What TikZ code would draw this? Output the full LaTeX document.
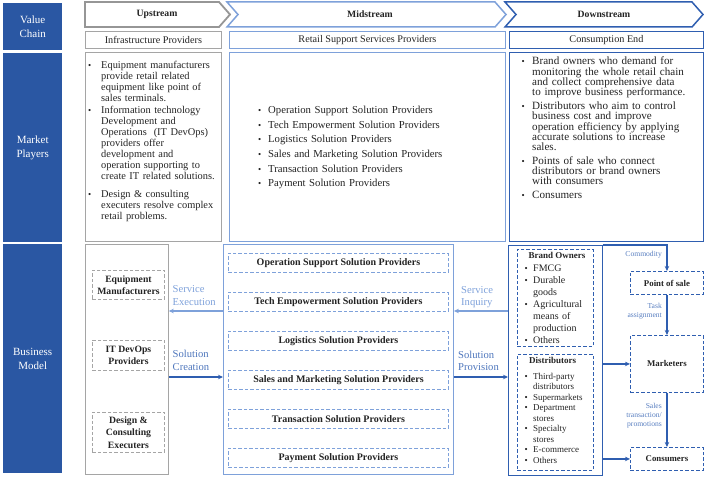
\documentclass[tikz,border=0pt]{standalone}
\usepackage{fontspec}
\setmainfont{Liberation Serif}
\usetikzlibrary{arrows.meta,calc}
\definecolor{barblue}{RGB}{42,87,163}
\definecolor{dblue}{RGB}{47,94,176}
\definecolor{lblue}{RGB}{126,161,218}
\definecolor{gborder}{RGB}{165,165,165}
\definecolor{chevgray}{RGB}{150,150,150}
\definecolor{txt}{RGB}{35,35,35}
\newenvironment{blist}[2]{\begin{list}{}{%
  \setlength{\leftmargin}{#1}\setlength{\labelwidth}{#1}\setlength{\labelsep}{0pt}%
  \setlength{\itemsep}{#2}\setlength{\parsep}{0pt}\setlength{\topsep}{0pt}%
  \setlength{\partopsep}{0pt}\setlength{\itemindent}{0pt}%
  \def\makelabel##1{{\small\textbullet}\hfil}}\raggedright}{\end{list}}
\begin{document}
\begin{tikzpicture}[x=1pt,y=-1pt,
  bar/.style={fill=barblue, draw=none, text=white, font=\fontsize{11}{13.5}\selectfont, align=center, inner sep=0pt, anchor=north west},
  gbox/.style={draw=gborder, line width=0.8pt, inner sep=0pt, anchor=north west, text=txt},
  lbox/.style={draw=lblue, line width=0.9pt, inner sep=0pt, anchor=north west, text=txt},
  dbox/.style={draw=dblue, line width=0.9pt, inner sep=0pt, anchor=north west, text=txt},
  rowtxt/.style={font=\fontsize{10.2}{12}\selectfont},
  gdash/.style={draw=gborder, line width=0.9pt, dash pattern=on 3.5pt off 2pt, inner sep=0pt, anchor=north west, align=center, text=txt, font=\bfseries\fontsize{9.7}{12.5}\selectfont},
  bdash/.style={draw=lblue, line width=0.9pt, dash pattern=on 3.5pt off 2pt, inner sep=0pt, anchor=north west, align=center, text=txt, font=\bfseries\fontsize{10}{12}\selectfont},
  ddash/.style={draw=dblue, line width=0.9pt, dash pattern=on 3.5pt off 2pt, inner sep=0pt, anchor=north west, align=center, text=txt, font=\bfseries\fontsize{8.8}{11}\selectfont},
  listtxt/.style={inner sep=0pt, anchor=north west, text=txt},
  arr/.style={-{Stealth[length=5pt,width=4.5pt]}, line width=1.4pt},
  flowlbl/.style={inner sep=0pt, align=left, anchor=west, font=\fontsize{10.6}{12.3}\selectfont},
  smalllbl/.style={inner sep=0pt, align=right, anchor=east, text=dblue!80, font=\fontsize{7.6}{9}\selectfont}
]
\useasboundingbox (0,0) rectangle (704,478);

% left bar
\node[bar, minimum width=59pt, minimum height=47pt] (vc) at (3,3) {Value\\Chain};
\node[bar, minimum width=59pt, minimum height=189pt] (mp) at (3,53) {Market\\Players};
\node[bar, minimum width=59pt, minimum height=229pt] (bm) at (3,244) {Business\\Model};

% chevrons
\draw[chevgray, line width=1.8pt, fill=white] (85,2) -- (219,2) -- (230,14.5) -- (219,27) -- (85,27) -- cycle;
\draw[lblue, line width=1.5pt, fill=white] (227,2) -- (495,2) -- (506,14.5) -- (495,27) -- (227,27) -- (238,14.5) -- cycle;
\draw[dblue, line width=1.5pt, fill=white] (505,2) -- (692,2) -- (703,14.5) -- (692,27) -- (505,27) -- (516,14.5) -- cycle;
\node[font=\bfseries\fontsize{9.7}{11}\selectfont, text=txt] (up) at (157,14.5) {Upstream};
\node[font=\bfseries\fontsize{9.7}{11}\selectfont, text=txt] (mid) at (370,14.5) {Midstream};
\node[font=\bfseries\fontsize{9.7}{11}\selectfont, text=txt] (down) at (604,14.5) {Downstream};

% second row
\node[gbox, rowtxt, minimum width=136pt, minimum height=17pt] (infra) at (85,31) {Infrastructure Providers};
\node[lbox, rowtxt, minimum width=276pt, minimum height=17pt] (retail) at (229,31) {Retail Support Services Providers};
\node[dbox, rowtxt, minimum width=194pt, minimum height=17pt] (cons) at (509,31) {Consumption End};

% market players boxes
\node[gbox, minimum width=136pt, minimum height=189pt] (mpl) at (85,52) {};
\node[lbox, minimum width=276pt, minimum height=189pt] (mpm) at (229,52) {};
\node[dbox, minimum width=194pt, minimum height=189pt] (mpr) at (509,52) {};

\node[listtxt, text width=135pt, font=\fontsize{10.4}{11.1}\selectfont] (mpltxt) at (88,57) {%
\begin{blist}{13pt}{0.6pt}
\item Equipment manufacturers\\provide retail related\\equipment like point of\\sales terminals.
\item Information technology\\Development and\\Operations~~(IT DevOps)\\providers offer\\development and\\operation supporting to\\create IT related solutions.\par\vspace{5.5pt}
\item Design \& consulting\\executers resolve complex\\retail problems.
\end{blist}};

\node[listtxt, text width=220pt, font=\fontsize{10.7}{14.6}\selectfont] (mpmtxt) at (258,99) {%
\begin{blist}{10pt}{0pt}
\item Operation Support Solution Providers
\item Tech Empowerment Solution Providers
\item Logistics Solution Providers
\item Sales and Marketing Solution Providers
\item Transaction Solution Providers
\item Payment Solution Providers
\end{blist}};

\node[listtxt, text width=180pt, font=\fontsize{11.1}{10.45}\selectfont] (mprtxt) at (521.5,54) {%
\begin{blist}{10.5pt}{2.7pt}
\item Brand owners who demand for\\monitoring the whole retail chain\\and collect comprehensive data\\to improve business performance.
\item Distributors who aim to control\\business cost and improve\\operation efficiency by applying\\accurate solutions to increase\\sales.
\item Points of sale who connect\\distributors or brand owners\\with consumers
\item Consumers
\end{blist}};

% business model: upstream
\node[gbox, minimum width=83pt, minimum height=230pt] (upbox) at (85,244) {};
\node[gdash, minimum width=72pt, minimum height=29pt] (eqm) at (92,270) {Equipment\\Manufacturers};
\node[gdash, minimum width=72pt, minimum height=30pt] (itd) at (92,340) {IT DevOps\\Providers};
\node[gdash, minimum width=72pt, minimum height=40pt] (dce) at (92,412) {Design \&\\Consulting\\Executers};

% business model: midstream
\node[lbox, minimum width=230pt, minimum height=230pt] (midbox) at (223,244) {};
\node[bdash, minimum width=220pt, minimum height=19pt] (ops) at (228,253) {Operation Support Solution Providers};
\node[bdash, minimum width=220pt, minimum height=19pt] (tech) at (228,292) {Tech Empowerment Solution Providers};
\node[bdash, minimum width=220pt, minimum height=19pt] (logi) at (228,331) {Logistics Solution Providers};
\node[bdash, minimum width=220pt, minimum height=19pt] (sales) at (228,370) {Sales and Marketing Solution Providers};
\node[bdash, minimum width=220pt, minimum height=19pt] (trans) at (228,409) {Transaction Solution Providers};
\node[bdash, minimum width=220pt, minimum height=19pt] (pay) at (228,448) {Payment Solution Providers};

% business model: downstream
\node[dbox, minimum width=94pt, minimum height=230pt] (downbox) at (508,245) {};
\node[listtxt, draw=dblue, line width=0.9pt, dash pattern=on 3.5pt off 2pt, minimum width=76pt, minimum height=97pt] (bown) at (517,249) {};
\node[listtxt, font=\bfseries\fontsize{9}{11}\selectfont] (bownh) at (528.5,252.5) {Brand Owners};
\node[listtxt, text width=66pt, font=\fontsize{10}{12.1}\selectfont] (bownl) at (524.5,259) {%
\begin{blist}{8.5pt}{0pt}
\item FMCG
\item Durable\\goods
\item Agricultural\\means of\\production
\item Others
\end{blist}};
\node[listtxt, draw=dblue, line width=0.9pt, dash pattern=on 3.5pt off 2pt, minimum width=76pt, minimum height=116pt] (dist) at (517,354) {};
\node[listtxt, font=\bfseries\fontsize{9}{11}\selectfont] (disth) at (529,357) {Distributors};
\node[listtxt, text width=66pt, font=\fontsize{9}{10.5}\selectfont] (distl) at (524.5,368.5) {%
\begin{blist}{8.5pt}{0pt}
\item Third-party\\distributors
\item Supermarkets
\item Department\\stores
\item Specialty\\stores
\item E-commerce
\item Others
\end{blist}};

\node[ddash, minimum width=73pt, minimum height=23pt] (pos) at (630,271) {Point of sale};
\node[ddash, minimum width=73pt, minimum height=57pt] (mk) at (630,335) {Marketers};
\node[ddash, minimum width=73pt, minimum height=23pt] (cs) at (630,447) {Consumers};

% flows between columns
\coordinate (yse) at (0,311);
\coordinate (ysc) at (0,377);
\draw[arr, lblue] (yse -| midbox.west) -- (yse -| upbox.east);
\draw[arr, dblue] (ysc -| upbox.east) -- (ysc -| midbox.west);
\draw[arr, lblue] (yse -| downbox.west) -- (yse -| midbox.east);
\draw[arr, dblue] (ysc -| midbox.east) -- (ysc -| downbox.west);
\node[flowlbl, text=lblue] (sel) at (172.5,295.5) {Service\\Execution};
\node[flowlbl, text=dblue!85] (scl) at (172.5,360.5) {Solution\\Creation};
\node[flowlbl, text=lblue] (sil) at (461,297) {Service\\Inquiry};
\node[flowlbl, text=dblue!85] (spl) at (458,361) {Solution\\Provision};

% downstream flows
\draw[arr, dblue] (downbox.north east) -- (downbox.north east -| pos.north) -- (pos.north);
\draw[arr, dblue] (pos.south) -- (mk.north);
\draw[arr, dblue] (mk.south) -- (cs.north);
\draw[arr, dblue] (downbox.east |- mk.west) -- (mk.west);
\draw[arr, dblue] (downbox.east |- cs.west) -- (cs.west);
\node[smalllbl] (coml) at (662,254.5) {Commodity};
\node[smalllbl] (tal) at (662,311) {Task\\assignment};
\node[smalllbl] (stl) at (662,415.5) {Sales\\transaction/\\promotions};
\end{tikzpicture}
\end{document}
